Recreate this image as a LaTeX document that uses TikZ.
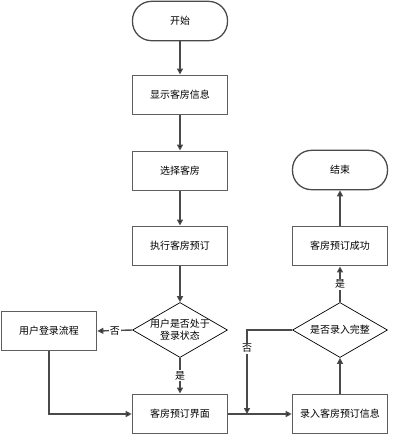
\documentclass[tikz,border=0pt]{standalone}
\usepackage{fontspec}
\usepackage{tikz}
\usetikzlibrary{shapes.geometric,arrows.meta,positioning,calc}
\newfontfamily\cjk{Noto Sans CJK SC}
\definecolor{edgegrey}{HTML}{5E5E5E}
\definecolor{wiregrey}{HTML}{4A4A4A}

\tikzset{
  stepbox/.style={rectangle,draw=edgegrey,line width=1.4pt,fill=white,
    minimum width=2.85cm,minimum height=1.18cm,inner sep=0pt,font=\cjk\fontsize{8.5pt}{10pt}\selectfont},
  terminal/.style={stepbox,rounded corners=0.57cm,line width=1.1pt,draw=wiregrey},
  decision/.style={diamond,draw=black,line width=0.6pt,fill=white,
    minimum width=2.85cm,minimum height=1.65cm,inner sep=0pt},
  flow/.style={draw=wiregrey,line width=1.2pt,-{Triangle[length=0.18cm,width=0.18cm,fill=black]}},
  tag/.style={fill=white,inner sep=1pt,font=\cjk\fontsize{8.5pt}{10pt}\selectfont}
}

\begin{document}
\begin{tikzpicture}[x=0.03cm,y=-0.03cm]
\useasboundingbox (0,0) rectangle (411,437);

% left column
\node[terminal] (start) at (180,21) {开始};
\node[stepbox] (showinfo) at (180,95) {显示客房信息};
\node[stepbox] (choose) at (180,171) {选择客房};
\node[stepbox] (execute) at (180,246) {执行客房预订};
\node[decision] (login) at (180,330) {};
\node[font=\cjk\fontsize{8.5pt}{10.5pt}\selectfont,align=center] at (login) {用户是否处于\\登录状态};
\node[stepbox] (loginflow) at (49,331) {用户登录流程};
\node[stepbox] (bookui) at (180,414) {客房预订界面};

% right column
\node[stepbox] (input) at (340,414) {录入客房预订信息};
\node[decision] (complete) at (340,330) {};
\node[font=\cjk\fontsize{8.5pt}{10pt}\selectfont] at (complete) {是否录入完整};
\node[stepbox] (success) at (340,246) {客房预订成功};
\node[terminal] (finish) at (340,170) {结束};
\coordinate (join) at (247,414);

% connectors
\draw[flow] (start) -- (showinfo);
\draw[flow] (showinfo) -- (choose);
\draw[flow] (choose) -- (execute);
\draw[flow] (execute) -- (login);
\draw[flow] (login.west) -- node[tag] {否} (loginflow.east);
\draw[flow] (login.south) -- node[tag] {是} (bookui.north);
\draw[flow] (loginflow.south) |- (bookui.west);
\draw[flow] (bookui.east) -- (input.west);
\draw[flow] (input.north) -- (complete.south);
\draw[flow] (complete.north) -- node[tag] {是} (success.south);
\draw[flow] (success.north) -- (finish.south);
\draw[flow] (complete.west) -| node[tag,pos=0.61] {否} (join);
\end{tikzpicture}
\end{document}
